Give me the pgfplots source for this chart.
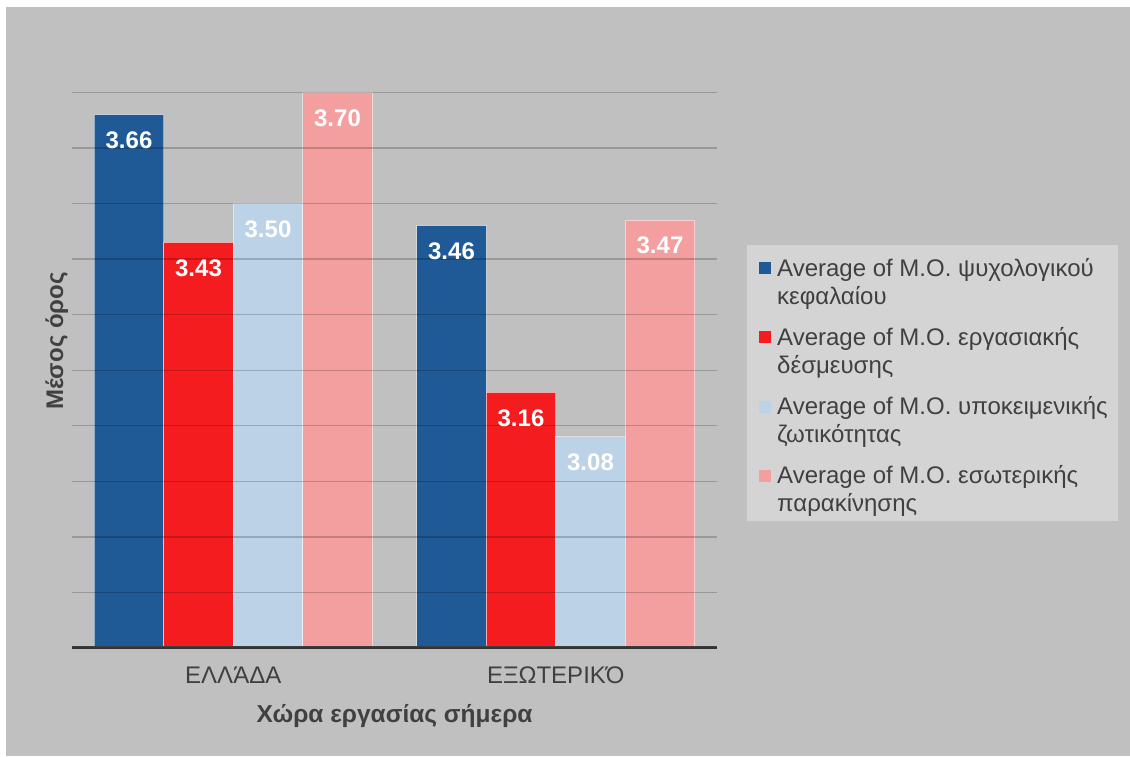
\documentclass[border=0pt]{standalone}
\usepackage{pgfplots}
\pgfplotsset{compat=1.18}
\usepackage{fontspec}
\setmainfont{Liberation Sans}

\definecolor{bg}{HTML}{C0C0C0}
\definecolor{legbg}{HTML}{D4D4D4}
\definecolor{txt}{HTML}{404040}
\definecolor{cblue}{HTML}{1F5A96}
\definecolor{cred}{HTML}{F51C1F}
\definecolor{clight}{HTML}{BCD3E7}
\definecolor{cpink}{HTML}{F39F9F}

\newcommand{\twoline}[2]{\begin{tabular}[t]{@{}l@{}}#1\\#2\end{tabular}}

\begin{document}
\begin{tikzpicture}[x=1pt,y=1pt]
\useasboundingbox (0,0) rectangle (1130,756);
\fill[white] (0,0) rectangle (1130,756);
\fill[bg] (6,0) rectangle (1130,749);
% legend panel
\fill[legbg] (747,235) rectangle (1118,511);
\begin{axis}[
  at={(72pt,108pt)}, anchor=south west,
  scale only axis, width=645pt, height=555.6pt,
  xmin=-0.5, xmax=1.5, ymin=2.7, ymax=3.7,
  ybar=0pt, bar width=69.5pt,
  xtick={0,1}, xticklabels={ΕΛΛΆΔΑ, ΕΞΩΤΕΡΙΚΌ},
  ytick={2.7,2.8,2.9,3.0,3.1,3.2,3.3,3.4,3.5,3.6,3.7}, yticklabels={},
  ymajorgrids, grid style={black, opacity=0.2, line width=1.3pt},
  major tick length=0pt,
  axis line style={draw=none},
  axis on top,
  xticklabel style={font=\fontsize{24}{24}\selectfont, text=txt, yshift=-15.5pt},
  xlabel={Χώρα εργασίας σήμερα},
  xlabel style={font=\fontsize{24.5}{24.5}\selectfont\bfseries, text=txt,
    at={(rel axis cs:0.5,-0.1332)}, anchor=base},
  ylabel={Μέσος όρος},
  ylabel style={font=\fontsize{24}{24}\selectfont\bfseries, text=txt,
    at={(rel axis cs:-0.01395,0.5526)}, anchor=base, rotate=0},
  nodes near coords,
  /pgf/number format/.cd, fixed, zerofill, precision=2, assume math mode=true,
  /pgfplots/.cd,
  every node near coord/.append style={font=\fontsize{24}{24}\selectfont\bfseries,
    text=white, anchor=north, inner sep=0pt, yshift=-16.5pt},
  legend style={at={(1.0465,0.7181)}, anchor=north west, fill=none, draw=none,
    font=\fontsize{24}{28}\selectfont, text=txt,
    inner xsep=12pt, inner ysep=7.5pt, row sep=48.1pt, column sep=6pt,
    nodes={inner sep=0pt}},
  legend cell align=left,
  legend image code/.code={\fill[#1, draw=none] (0pt,-7pt) rectangle (12pt,5pt);},
]
\addplot[fill=cblue, draw=white, draw opacity=0.5, line width=1pt] coordinates {(0,3.66) (1,3.46)};
\addlegendentry{\twoline{Average of M.O. ψυχολογικού}{κεφαλαίου}}
\addplot[fill=cred, draw=white, draw opacity=0.5, line width=1pt] coordinates {(0,3.43) (1,3.16)};
\addlegendentry{\twoline{Average of M.O. εργασιακής}{δέσμευσης}}
\addplot[fill=clight, draw=white, draw opacity=0.5, line width=1pt] coordinates {(0,3.50) (1,3.08)};
\addlegendentry{\twoline{Average of M.O. υποκειμενικής}{ζωτικότητας}}
\addplot[fill=cpink, draw=white, draw opacity=0.5, line width=1pt] coordinates {(0,3.70) (1,3.47)};
\addlegendentry{\twoline{Average of M.O. εσωτερικής}{παρακίνησης}}
\draw[line width=4pt, color=txt] (rel axis cs:0,0) -- (rel axis cs:1,0);
\end{axis}
\end{tikzpicture}
\end{document}
